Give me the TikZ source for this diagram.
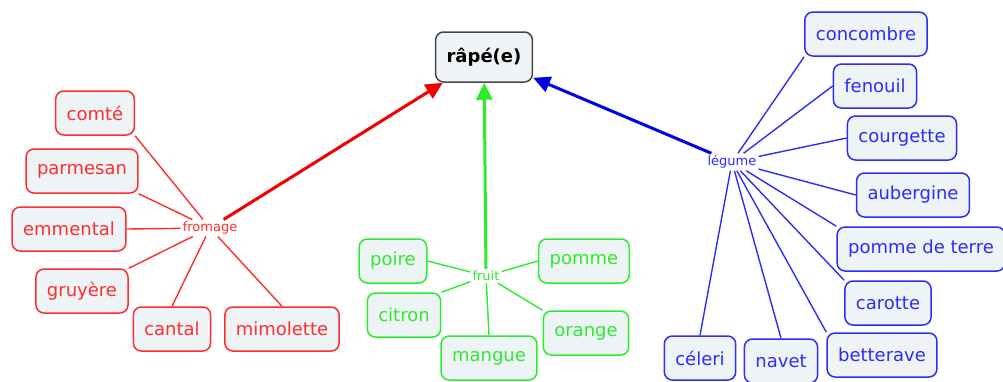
\documentclass[tikz,border=0pt]{standalone}
\usepackage{fontspec}
\setmainfont{DejaVu Sans}
\usepackage{tikz}
\usetikzlibrary{arrows.meta}

\definecolor{boxfill}{RGB}{238,243,246}
\definecolor{cred}{RGB}{255,45,45}
\definecolor{cgreen}{RGB}{45,235,45}
\definecolor{cblue}{RGB}{45,45,245}
\definecolor{cgray}{RGB}{70,70,70}

\begin{document}
\begin{tikzpicture}[
      x=1pt, y=-1pt,
      >={Triangle[length=17pt,width=16pt]},
      concept/.style={draw, line width=1.5pt, rounded corners=8pt, fill=boxfill, minimum height=44pt, inner xsep=11pt, font=\fontsize{18}{20}\selectfont},
      root/.style={concept, draw=cgray, text=black, font=\fontsize{18}{20}\selectfont\bfseries, minimum height=50pt},
      cheese/.style={concept, draw=cred, text=cred},
      fruitbox/.style={concept, draw=cgreen, text=cgreen},
      veg/.style={concept, draw=cblue, text=cblue},
      link/.style={font=\fontsize{13}{15}\selectfont, inner sep=2pt, fill=white},
      thin/.style={line width=1.4pt},
      main/.style={->, line width=3pt}]
    \useasboundingbox (0,0) rectangle (1003,381);
    % root concept
    \node[root] (rape) at (484,57) {râpé(e)};
    % linking phrases
    \node[link, text=cred]   (fromage) at (210,228) {fromage};
    \node[link, text=cgreen] (fruit)   at (486,276) {fruit};
    \node[link, text=cblue]  (legume)  at (732,162) {légume};
    % cheeses
    \node[cheese] (comte)     at (95,113)  {comté};
    \node[cheese] (parmesan)  at (82,171)  {parmesan};
    \node[cheese] (emmental)  at (69,229)  {emmental};
    \node[cheese] (gruyere)   at (82,291)  {gruyère};
    \node[cheese] (cantal)    at (172,329) {cantal};
    \node[cheese] (mimolette) at (282,329) {mimolette};
    % fruits
    \node[fruitbox] (poire)  at (393,261) {poire};
    \node[fruitbox] (pomme)  at (584,261) {pomme};
    \node[fruitbox] (citron) at (404,315) {citron};
    \node[fruitbox] (orange) at (586,333) {orange};
    \node[fruitbox] (mangue) at (489,358) {mangue};
    % vegetables
    \node[veg] (concombre) at (866,34)  {concombre};
    \node[veg] (fenouil)   at (875,86)  {fenouil};
    \node[veg] (courgette) at (902,138) {courgette};
    \node[veg] (aubergine) at (913,195) {aubergine};
    \node[veg] (pdt)       at (921,249) {pomme de terre};
    \node[veg] (carotte)   at (888,303) {carotte};
    \node[veg] (betterave) at (882,355) {betterave};
    \node[veg] (navet)     at (781,361) {navet};
    \node[veg] (celeri)    at (700,358) {céleri};
    % thin links
    \begin{scope}[thin, draw=cred]
      \draw (comte.south east) -- (fromage);
      \draw (parmesan.south east) -- (fromage);
      \draw (emmental.east) -- (fromage);
      \draw (gruyere.north east) -- (fromage);
      \draw (cantal.north) -- (fromage);
      \draw (mimolette.north) -- (fromage);
    \end{scope}
    \begin{scope}[thin, draw=cgreen]
      \draw (poire.east) -- (fruit);
      \draw (pomme.west) -- (fruit);
      \draw (citron.north east) -- (fruit);
      \draw (orange.north west) -- (fruit);
      \draw (mangue.north) -- (fruit);
    \end{scope}
    \begin{scope}[thin, draw=cblue]
      \draw (concombre.south west) -- (legume);
      \draw (fenouil.west) -- (legume);
      \draw (courgette.west) -- (legume);
      \draw (aubergine.west) -- (legume);
      \draw (pdt.north west) -- (legume);
      \draw (carotte.north west) -- (legume);
      \draw (betterave.north west) -- (legume);
      \draw (navet.north) -- (legume);
      \draw (celeri.north) -- (legume);
    \end{scope}
    % main arrows
    \draw[main, draw=red!95!black, fill=red!95!black] (fromage) -- (rape);
    \draw[main, draw=cgreen, fill=cgreen] (fruit) -- (rape);
    \draw[main, draw=blue!90!black, fill=blue!90!black] (legume) -- (rape);
  \end{tikzpicture}
\end{document}
